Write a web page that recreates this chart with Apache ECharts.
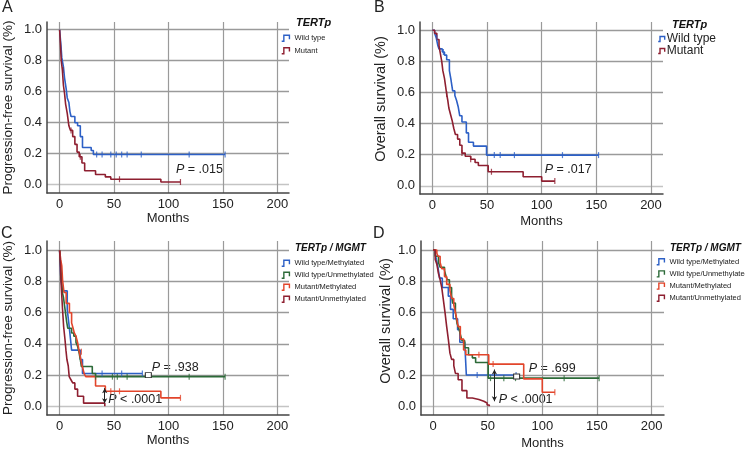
<!DOCTYPE html>
<html><head><meta charset="utf-8">
<script src="https://cdn.jsdelivr.net/npm/echarts@6/dist/echarts.min.js"></script>
<style>html,body{margin:0;padding:0;background:#fff}#c{width:745px;height:452px}</style>
</head><body><div id="c"></div>
<script>
// ---- tick labels ----
const xTicks = [0, 50, 100, 150, 200];
const yTicks = [0, 0.2, 0.4, 0.6, 0.8, 1.0];

// ---- legend names ----
const tertNames = ['Wild type', 'Mutant'];
const comboNames = ['Wild type/Methylated', 'Wild type/Unmethylated', 'Mutant/Methylated', 'Mutant/Unmethylated'];

// ---- Panel A: progression-free survival by TERTp [months, survival] ----
const pfsWild = [[0,1],[1.2,0.9],[2,0.82],[3.5,0.76],[4.5,0.69],[6,0.62],[7,0.56],[8.5,0.53],[9.5,0.47],[10.5,0.44],[14,0.4],[16.5,0.38],[19,0.31],[21,0.24],[29,0.22],[31,0.195],[152,0.195]];
const pfsWildCens = [[34,0.195],[39,0.195],[47,0.195],[52,0.195],[57,0.195],[62,0.195],[75,0.195],[119,0.195],[152,0.195]];
const pfsMut = [[0,1],[0.8,0.9],[1.5,0.8],[2.5,0.74],[3.5,0.64],[4.5,0.59],[5.5,0.52],[7,0.46],[8.5,0.38],[10,0.35],[12,0.31],[14,0.26],[16,0.21],[18,0.18],[20.5,0.14],[23,0.09],[33,0.065],[42,0.05],[47,0.035],[93,0.017],[111,0.017]];
const pfsMutCens = [[3,0.74],[10.5,0.35],[19,0.18],[55,0.035],[111,0.017]];

// ---- Panel B: overall survival by TERTp ----
const osWild = [[0,1],[2,0.98],[3.5,0.95],[5,0.9],[6,0.88],[9,0.86],[11,0.84],[13,0.81],[15.5,0.74],[17,0.68],[18.5,0.61],[20.5,0.58],[22,0.55],[23.5,0.51],[25,0.45],[27,0.41],[31,0.34],[33,0.28],[37.5,0.255],[49.5,0.197],[152,0.197]];
const osWildCens = [[4,0.95],[10,0.86],[56.6,0.197],[62,0.197],[75,0.197],[119,0.197],[152,0.197]];
const osMut = [[0,1],[2,0.98],[4,0.94],[6,0.9],[7,0.86],[8.5,0.8],[9.5,0.74],[11,0.69],[12,0.64],[13,0.59],[14,0.55],[15,0.5],[16.5,0.46],[18,0.42],[19.5,0.37],[21,0.33],[23,0.3],[25,0.26],[27,0.21],[30,0.19],[35,0.17],[39,0.15],[42,0.13],[51,0.09],[83,0.058],[100,0.03],[112,0.03]];
const osMutCens = [[13,0.59],[27,0.21],[35,0.17],[54,0.09],[112,0.03]];

// ---- Panel C: progression-free survival by TERTp / MGMT ----
const pfsWM = [[0,1],[1,0.84],[2.5,0.74],[7,0.62],[8.5,0.53],[10,0.43],[11,0.36],[19,0.3],[21,0.21],[76,0.21]];
const pfsWMCens = [[39,0.21],[57,0.21],[76,0.21]];
const pfsWU = [[0,1],[1,0.9],[1.5,0.84],[2.5,0.73],[3.5,0.7],[5,0.62],[6.5,0.54],[7.5,0.5],[11,0.47],[13,0.45],[15,0.41],[16.5,0.385],[18,0.34],[19,0.3],[20,0.255],[30,0.21],[33,0.19],[152,0.19]];
const pfsWUCens = [[33,0.19],[48.5,0.19],[53,0.19],[62,0.19],[119,0.19],[152,0.19]];
const pfsMM = [[0,1],[1,0.94],[2,0.9],[2.7,0.81],[4,0.73],[6,0.66],[9,0.6],[11,0.535],[12,0.51],[13.5,0.47],[15,0.45],[16.5,0.41],[18,0.35],[19.5,0.3],[21,0.25],[22.5,0.21],[24,0.19],[33,0.13],[42,0.096],[93,0.054],[111,0.054]];
const pfsMMCens = [[20,0.35],[47,0.096],[55,0.096],[111,0.054]];
const pfsMU = [[0,1],[0.6,0.92],[1.2,0.81],[1.8,0.73],[2.7,0.62],[3.7,0.51],[4.9,0.43],[5.8,0.36],[6.7,0.3],[7.9,0.26],[8.8,0.19],[10.4,0.17],[12,0.15],[14,0.11],[16.5,0.064],[22,0.02],[41.5,0]];

// ---- Panel D: overall survival by TERTp / MGMT ----
const osWM = [[0,1],[2,0.98],[3,0.94],[4.5,0.89],[6,0.82],[8.5,0.76],[14,0.705],[16,0.62],[18.5,0.56],[22.5,0.49],[24.5,0.41],[29,0.4],[30.5,0.2],[76,0.2]];
const osWMCens = [[40.4,0.2],[76,0.2]];
const osWU = [[0,1],[2,0.96],[5,0.92],[6.5,0.89],[10.5,0.87],[12,0.83],[13,0.81],[15,0.76],[17,0.71],[18,0.66],[20.5,0.6],[22,0.53],[23.5,0.5],[25,0.46],[26.5,0.42],[29,0.375],[32.5,0.33],[36,0.31],[39,0.28],[50.5,0.18],[152,0.18]];
const osWUCens = [[52.6,0.18],[64.8,0.18],[75.5,0.18],[120,0.18],[152,0.18]];
const osMM = [[0,1],[3.5,0.98],[4.5,0.96],[6.5,0.92],[8,0.88],[10.5,0.83],[12.5,0.78],[15.5,0.74],[17,0.69],[19,0.65],[20.5,0.6],[22,0.55],[23,0.51],[25,0.43],[28,0.36],[30,0.33],[51,0.27],[83,0.175],[100,0.09],[111.5,0.09]];
const osMMCens = [[42,0.33],[55,0.27],[111.5,0.09]];
const osMU = [[0,1],[2,0.94],[3.5,0.91],[5,0.85],[6.5,0.81],[8,0.76],[9.5,0.68],[11,0.6],[12.5,0.51],[14,0.43],[15.5,0.34],[17,0.3],[19,0.26],[20.5,0.21],[23,0.17],[26.5,0.1],[31,0.053],[36,0.043],[42,0.032],[46.5,0.021],[49.5,0.008],[51.5,0]];

const BLUE = '#2d60c6', DRED = '#8e1f30', GREEN = '#2c6a38', RED = '#e2452b';
const ICON = 'path://M0,7 L2.5,7 L2.5,0 L9,0 L9,4.5';
const FONT = 'Liberation Sans, Arial, Helvetica, sans-serif';
const TXT = '#222';

function xAxis(gi, min, max, gap) {
  return {type:'value', gridIndex:gi, min, max, name:'Months', nameLocation:'middle', nameGap:gap,
    nameTextStyle:{fontSize:13, color:TXT},
    axisLine:{show:true, onZero:false, lineStyle:{color:'#444', width:1.5}},
    axisTick:{show:false, customValues:xTicks},
    axisLabel:{customValues:xTicks, fontSize:13, color:TXT, margin:5},
    splitLine:{show:true, lineStyle:{color:'#9a9a9a', width:1.2}}};
}
function yAxis(gi, min, max, name, gap, shift, fs) {
  return {type:'value', gridIndex:gi, min, max, name, nameLocation:'middle', nameGap:gap,
    nameTextStyle:{fontSize:fs, color:TXT, padding:[0,0,0,shift]},
    axisLine:{show:true, onZero:false, lineStyle:{color:'#444', width:1.5}},
    axisTick:{show:false, customValues:yTicks},
    axisLabel:{customValues:yTicks, formatter:v => v.toFixed(1), fontSize:13, color:TXT, margin:5},
    splitLine:{show:true, lineStyle:{color:['#c4c4c4','#9a9a9a','#9a9a9a','#9a9a9a','#9a9a9a','#9a9a9a'], width:1.3}}};
}
function km(name, data, color, i, extra) {
  return Object.assign({type:'line', name, xAxisIndex:i, yAxisIndex:i, data, step:'end', showSymbol:false, symbol:'none',
    lineStyle:{color, width:1.6}, itemStyle:{color}, animation:false, z:3}, extra || {});
}
function cens(name, data, color, i) {
  return {type:'scatter', name:name + ' (censored)', xAxisIndex:i, yAxisIndex:i, data, symbol:'rect', symbolSize:[1.2,6],
    itemStyle:{color}, animation:false, z:4, silent:true};
}
function legItem(name, color) {
  return {name, icon:ICON, itemStyle:{color:'rgba(0,0,0,0)', borderColor:color, borderWidth:1.4}};
}
function legend(left, top, names, colors, fs, lh, gap, iw, pad) {
  return {left, top, orient:'vertical', padding:0, itemWidth:iw, itemHeight:6, itemGap:gap, selectedMode:false,
    textStyle:{fontSize:fs, lineHeight:lh, color:TXT, fontFamily:FONT, padding:pad || 0},
    data:names.map((n, k) => legItem(n, colors[k]))};
}
function arrow(t, s1, s2) {
  return {silent:true, symbol:['arrow','arrow'], symbolSize:[4,5], label:{show:false},
    lineStyle:{color:'#222', width:1, type:'solid'}, emphasis:{disabled:true},
    data:[[{coord:[t, s1]}, {coord:[t, s2]}]]};
}
function box(t, s) {
  return {silent:true, symbol:'rect', symbolSize:[6,5], label:{show:false},
    itemStyle:{color:'#fff', borderColor:'#333', borderWidth:1}, data:[{coord:[t, s]}]};
}
function ptext(x, y, rel, val) {
  return {type:'text', x, y, silent:true, style:{text:'{i|P} ' + rel + ' ' + val, verticalAlign:'middle',
    font:'12.5px ' + FONT, fill:TXT, rich:{i:{fontStyle:'italic', fontSize:12.5, fontFamily:FONT, fill:TXT}}}};
}
function ttl(text, left, top, size, bold) {
  return {text, left, top, padding:0, textStyle:{fontSize:size, fontWeight:bold ? 'bold' : 'normal',
    fontStyle:bold ? 'italic' : 'normal', color:bold ? '#111' : TXT, fontFamily:FONT}};
}

const chart = echarts.init(document.getElementById('c'), null, {renderer:'canvas'});
chart.setOption({
  backgroundColor:'#fff',
  animation:false,
  textStyle:{fontFamily:FONT},
  title:[
    ttl('A', 2, 0, 16), ttl('B', 374, 0, 16), ttl('C', 1, 226, 16), ttl('D', 373, 226, 16),
    ttl('TERTp', 296, 17, 11, true), ttl('TERTp', 672, 19.5, 11, true),
    ttl('TERTp / MGMT', 295, 243, 10, true), ttl('TERTp / MGMT', 670, 243, 10, true)
  ],
  legend:[
    legend(281, 33.8, tertNames, [BLUE, DRED], 7.5, 9, 3.4, 8),
    legend(657.5, 33, tertNames, [BLUE, DRED], 12, 12, 0, 6.5, [0,0,0,-3]),
    legend(281, 258.8, comboNames, [BLUE, GREEN, RED, DRED], 7.5, 9, 3, 8),
    legend(656, 257.2, comboNames, [BLUE, GREEN, RED, DRED], 7.5, 9, 3.2, 8)
  ],
  grid:[
    {left:46, top:22, width:243, height:171},
    {left:420, top:22, width:243, height:172},
    {left:46, top:241, width:243, height:174},
    {left:421, top:241, width:243, height:174}
  ],
  xAxis:[xAxis(0, -11.6, 210.7, 18), xAxis(1, -11.4, 211, 21), xAxis(2, -11.6, 210.7, 18), xAxis(3, -11, 211.4, 22)],
  yAxis:[
    yAxis(0, -0.054, 1.05, 'Progression-free survival (%)', 32, 0, 13.5),
    yAxis(1, -0.053, 1.053, 'Overall survival (%)', 32, 18, 14.5),
    yAxis(2, -0.056, 1.06, 'Progression-free survival (%)', 32, 0, 13.5),
    yAxis(3, -0.056, 1.058, 'Overall survival (%)', 27.5, 14, 14.5)
  ],
  series:[
    km('Wild type', pfsWild, BLUE, 0), cens('Wild type', pfsWildCens, BLUE, 0),
    km('Mutant', pfsMut, DRED, 0), cens('Mutant', pfsMutCens, DRED, 0),

    km('Wild type', osWild, BLUE, 1), cens('Wild type', osWildCens, BLUE, 1),
    km('Mutant', osMut, DRED, 1), cens('Mutant', osMutCens, DRED, 1),

    km('Wild type/Methylated', pfsWM, BLUE, 2, {markPoint:box(81.5, 0.2)}), cens('Wild type/Methylated', pfsWMCens, BLUE, 2),
    km('Wild type/Unmethylated', pfsWU, GREEN, 2), cens('Wild type/Unmethylated', pfsWUCens, GREEN, 2),
    km('Mutant/Methylated', pfsMM, RED, 2), cens('Mutant/Methylated', pfsMMCens, RED, 2),
    km('Mutant/Unmethylated', pfsMU, DRED, 2, {markLine:arrow(41.4, 0.116, 0.02)}),

    km('Wild type/Methylated', osWM, BLUE, 3, {markPoint:box(76.5, 0.19)}), cens('Wild type/Methylated', osWMCens, BLUE, 3),
    km('Wild type/Unmethylated', osWU, GREEN, 3), cens('Wild type/Unmethylated', osWUCens, GREEN, 3),
    km('Mutant/Methylated', osMM, RED, 3), cens('Mutant/Methylated', osMMCens, RED, 3),
    km('Mutant/Unmethylated', osMU, DRED, 3, {markLine:arrow(56.2, 0.235, 0.032)})
  ],
  graphic:[
    ptext(176, 169.3, '=', '.015'),
    ptext(544.7, 169.3, '=', '.017'),
    ptext(151.7, 367.7, '=', '.938'),
    ptext(108.3, 400, '<', '.0001'),
    ptext(528.7, 368.3, '=', '.699'),
    ptext(498.7, 399.3, '<', '.0001')
  ]
});
</script></body></html>
